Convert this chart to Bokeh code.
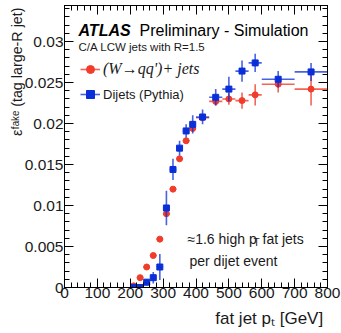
import numpy as np
from bokeh.plotting import figure
from bokeh.models import (Range1d, FixedTicker, LinearAxis, Label, Legend, Title,
                          LegendItem, ColumnDataSource, CustomLabelingPolicy)
from bokeh.embed import file_html
from bokeh.resources import INLINE

# ---------------- data ----------------
bin_lo = [200, 220, 240, 260, 280, 300, 320, 340, 360, 380, 400, 440, 480, 520, 560, 600, 700]
bin_hi = [220, 240, 260, 280, 300, 320, 340, 360, 380, 400, 440, 480, 520, 560, 600, 700, 800]
wjets_eff = [0.0002, 0.0012, 0.0025, 0.0039, 0.0059, 0.0090, 0.0120, 0.0157, 0.0179, 0.0194,
             0.0207, 0.0227, 0.0230, 0.0228, 0.0235, 0.0248, 0.0242]
wjets_err = [0.0001, 0.0002, 0.0002, 0.0003, 0.0003, 0.0003, 0.0003, 0.0003, 0.0003, 0.0003,
             0.0004, 0.0005, 0.0007, 0.0010, 0.0013, 0.0010, 0.0020]
dijet_eff = [0.0, 0.0, 0.00065, 0.0012, 0.0025, 0.0097, 0.0144, 0.0170, 0.0191, 0.0199,
             0.0208, 0.0232, 0.0242, 0.0264, 0.0274, 0.0254, 0.0263]
dijet_err = [0.0001, 0.0001, 0.0004, 0.0007, 0.0016, 0.0021, 0.0013, 0.0009, 0.0008, 0.0011,
             0.0009, 0.0010, 0.0015, 0.0013, 0.0011, 0.0010, 0.0011]
x_ticks = [0, 100, 200, 300, 400, 500, 600, 700, 800]
y_ticks = [0, 0.005, 0.01, 0.015, 0.02, 0.025, 0.03]
y_tick_labels = ["0", "0.005", "0.01", "0.015", "0.02", "0.025", "0.03"]
x_title = "fat jet pₜ [GeV]"
y_title = "εᶠᵃᵏᵉ (tag large-R jet)"

RED = "#f23c2a"
BLUE = "#0a2fd8"
FONT = "Liberation Sans"

X0, X1 = 0, 800
Y0, Y1 = 0, 0.0344
FL, FR, FT, FB = 64, 327, 5, 287   # frame pixel box


def px2x(px):
    return X0 + (px - FL) / (FR - FL) * (X1 - X0)


def py2y(py):
    return Y0 + (FB - py) / (FB - FT) * (Y1 - Y0)


def make_src(eff, err):
    lo = np.array(bin_lo, float)
    hi = np.array(bin_hi, float)
    e = np.array(eff, float)
    s = np.array(err, float)
    return ColumnDataSource(dict(xc=(lo + hi) / 2, lo=lo, hi=hi, y=e,
                                 ylo=e - s, yhi=e + s))


p = figure(width=341, height=333, x_range=Range1d(X0, X1), y_range=Range1d(Y0, Y1),
           output_backend="svg", toolbar_location=None,
           min_border_left=FL, min_border_right=341 - FR,
           min_border_top=FT, min_border_bottom=333 - FB)
p.background_fill_color = "white"
p.border_fill_color = "white"
p.outline_line_color = "black"
p.outline_line_width = 1
p.xgrid.visible = False
p.ygrid.visible = False

x_minor = list(range(0, 801, 20))
y_minor = [round(v * 0.001, 4) for v in range(0, 35)]
xt = FixedTicker(ticks=x_ticks, minor_ticks=x_minor)
yt = FixedTicker(ticks=y_ticks, minor_ticks=y_minor)

no_labels = CustomLabelingPolicy(code="for (const i of indices) { indices.unset(i) } return indices")


def style_axis(ax, labels=True):
    ax.axis_line_color = "black"
    ax.major_tick_in = 9
    ax.major_tick_out = 0
    ax.minor_tick_in = 5
    ax.minor_tick_out = 0
    ax.major_tick_line_color = "black"
    ax.minor_tick_line_color = "black"
    ax.major_label_text_font = FONT
    ax.major_label_text_color = "#1a1a1a"
    ax.axis_label = None
    if labels:
        ax.major_label_text_font_size = "15.5px"
    else:
        ax.major_label_text_font_size = "1px"
        ax.major_label_standoff = 0
        ax.major_label_policy = no_labels


p.xaxis.ticker = xt
p.yaxis.ticker = yt
style_axis(p.xaxis[0])
style_axis(p.yaxis[0])
p.xaxis.major_label_standoff = 0
p.yaxis.major_label_standoff = 1
p.yaxis.major_label_overrides = {t: l for t, l in zip(y_ticks, y_tick_labels)}

# x title: right-aligned under the axis end (leading no-break spaces shift it right)
xa = p.xaxis[0]
xa.axis_label = "\u00a0" * 31 + x_title
xa.axis_label_text_font = FONT
xa.axis_label_text_font_style = "normal"
xa.axis_label_text_font_size = "17px"
xa.axis_label_text_color = "#1a1a1a"
xa.axis_label_standoff = 8

ax_r = LinearAxis(ticker=yt)
style_axis(ax_r, labels=False)
p.add_layout(ax_r, "right")
ax_t = LinearAxis(ticker=xt)
style_axis(ax_t, labels=False)
p.add_layout(ax_t, "above")

# y title, top aligned like the original
p.add_layout(Title(text=y_title, align="right", vertical_align="middle", offset=2,
                   standoff=-9, text_font=FONT, text_font_style="normal",
                   text_font_size="14.3px", text_color="#1a1a1a"), "left")

# ---------------- data glyphs ----------------
src_w = make_src(wjets_eff, wjets_err)
src_d = make_src(dijet_eff, dijet_err)

p.segment("xc", "ylo", "xc", "yhi", source=src_w, line_color=RED, line_width=1.6, line_alpha=0.8)
red_h = p.segment("lo", "y", "hi", "y", source=src_w, line_color=RED, line_width=1.6, line_alpha=0.8)
red_pts = p.scatter("xc", "y", source=src_w, marker="circle", size=6,
                    fill_color=RED, line_color=RED)

p.segment("xc", "ylo", "xc", "yhi", source=src_d, line_color=BLUE, line_width=1.6, line_alpha=0.75)
blue_h = p.segment("lo", "y", "hi", "y", source=src_d, line_color=BLUE, line_width=1.6, line_alpha=0.75)
blue_pts = p.scatter("xc", "y", source=src_d, marker="square", size=6,
                     fill_color=BLUE, line_color=BLUE)

# ---------------- legends ----------------
def make_legend(label, rends, y_center_px, font, style, size):
    leg = Legend(items=[LegendItem(label=label, renderers=rends)],
                 location=(80 - FL, FB - y_center_px - 10),
                 glyph_width=20, glyph_height=20, label_height=20,
                 label_standoff=3, padding=0, margin=0, spacing=0,
                 border_line_color=None, background_fill_alpha=0,
                 label_text_font=font, label_text_font_style=style,
                 label_text_font_size=size, label_text_color="#1a1a1a")
    p.add_layout(leg)


make_legend("(W→qq')+ jets", [red_h, red_pts], 69, "Liberation Serif", "italic", "16px")
make_legend("Dijets (Pythia)", [blue_h, blue_pts], 94, FONT, "normal", "13px")

# ---------------- texts ----------------
def lab(text, px, py, size, style="normal", align="left", font=FONT, color="#1a1a1a"):
    p.add_layout(Label(x=px2x(px), y=py2y(py), text=text, text_font=font,
                       text_font_size=size, text_font_style=style, text_align=align,
                       text_baseline="middle", text_color=color))


lab("ATLAS", 78, 30, "16px", style="bold italic", color="black")
lab("Preliminary - Simulation", 139, 30, "16px", color="black")
lab("C/A LCW jets with R=1.5", 78, 46, "11.5px")

lab("≈1.6 high p", 187, 238, "14px")
lab("T", 253, 242, "10px")
lab("fat jets", 262, 238, "14px")
lab("per dijet event", 189, 260, "14px")

open("out.html", "w").write(file_html(p, INLINE))
